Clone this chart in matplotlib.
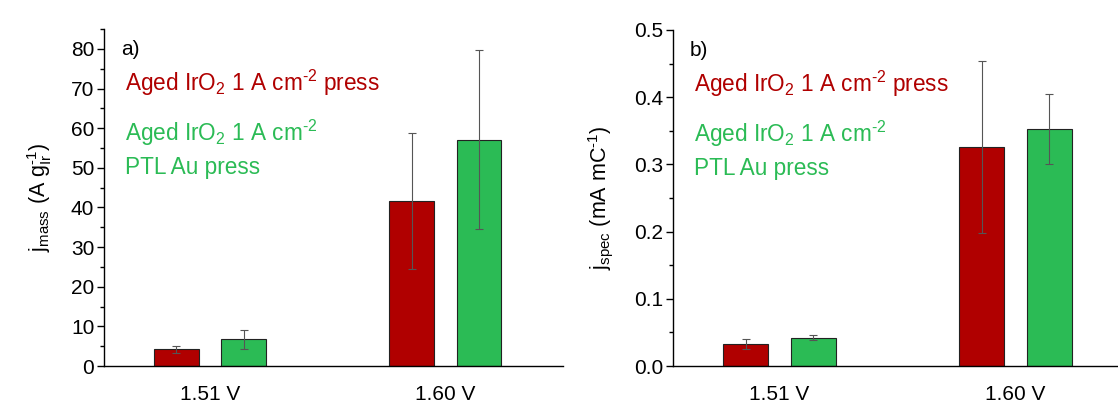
import numpy as np
import matplotlib
matplotlib.use("Agg")
import matplotlib.pyplot as plt
from matplotlib.ticker import MultipleLocator, FormatStrFormatter

plt.rcParams['font.family'] = ['Liberation Sans', 'DejaVu Sans']
plt.rcParams['mathtext.fontset'] = 'custom'
plt.rcParams['mathtext.rm'] = 'Liberation Sans'
plt.rcParams['mathtext.it'] = 'Liberation Sans'
plt.rcParams['mathtext.default'] = 'regular'

categories = ['1.51 V', '1.60 V']
series_names = ['Aged IrO$_2$ 1 A cm$^{\u2010 2}$ press',
                'Aged IrO$_2$ 1 A cm$^{\u2010 2}$\nPTL Au press']

# panel a) mass activity (A g_Ir^-1)
mass_press = [4.2, 41.7]
mass_press_err = [0.8, 17.2]
mass_au = [6.7, 57.1]
mass_au_err = [2.4, 22.6]

# panel b) specific activity (mA mC^-1)
spec_press = [0.033, 0.326]
spec_press_err = [0.007, 0.128]
spec_au = [0.042, 0.353]
spec_au_err = [0.004, 0.052]

red = '#B00000'
green = '#2BBB55'

fig = plt.figure(figsize=(11.18, 4.03), dpi=100)
ax1 = fig.add_axes([0.093, 0.0918, 0.4106, 0.836])
ax2 = fig.add_axes([0.602, 0.0918, 0.398, 0.834])

x = np.arange(1, len(categories) + 1)
w = 0.19
off = 0.143


def draw(ax, v1, e1, v2, e2, ylim, major, minor, ylabel, tag, xlim, lpad):
    ekw = dict(ecolor='#555555', elinewidth=0.8, capsize=3, capthick=0.8)
    ax.bar(x - off, v1, w, yerr=e1, color=red, edgecolor='#222222', linewidth=0.8,
           error_kw=ekw)
    ax.bar(x + off, v2, w, yerr=e2, color=green, edgecolor='#222222', linewidth=0.8,
           error_kw=ekw)
    ax.set_xlim(*xlim)
    ax.set_ylim(*ylim)
    ax.set_xticks(x)
    ax.set_xticklabels(categories)
    ax.tick_params(axis='x', length=0, pad=13.5, labelsize=15)
    ax.yaxis.set_major_locator(MultipleLocator(major))
    ax.yaxis.set_minor_locator(MultipleLocator(minor))
    ax.tick_params(axis='y', which='major', direction='out', length=5, width=1,
                   labelsize=15, pad=2)
    ax.tick_params(axis='y', which='minor', direction='out', length=3, width=1)
    for s in ['top', 'right']:
        ax.spines[s].set_visible(False)
    ax.spines['left'].set_linewidth(1)
    ax.spines['bottom'].set_linewidth(1)
    ax.set_ylabel(ylabel, fontsize=15.5, labelpad=lpad)
    ax.text(0.037, 0.94, tag, transform=ax.transAxes, fontsize=15, va='center')
    ax.text(0.046, 0.84, series_names[0], transform=ax.transAxes, fontsize=16.3,
            color=red, va='center')
    ax.text(0.046, 0.645, series_names[1], transform=ax.transAxes, fontsize=16.3,
            color=green, va='center', linespacing=1.45)


draw(ax1, mass_press, mass_press_err, mass_au, mass_au_err, (0, 85), 10, 5,
     'j$_{mass}$ (A g$_{Ir}^{\u2010 1}$)', 'a)', (0.549, 2.5), 12)
draw(ax2, spec_press, spec_press_err, spec_au, spec_au_err, (0, 0.5), 0.1, 0.05,
     'j$_{spec}$ (mA mC$^{\u2010 1}$)', 'b)', (0.549, 2.434), 14)
ax2.yaxis.set_major_formatter(FormatStrFormatter('%.1f'))

fig.savefig('out.png', dpi=100)
